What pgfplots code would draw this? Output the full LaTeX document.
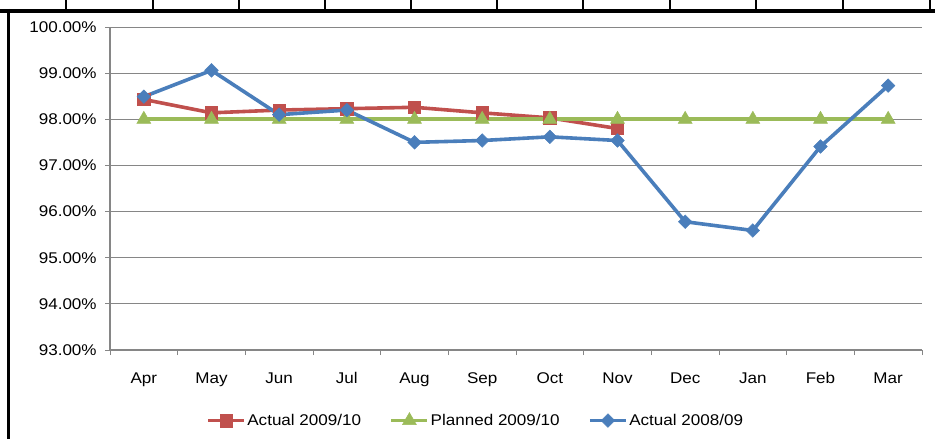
\documentclass[border=0pt]{standalone}
\usepackage{fontspec}
\setmainfont{Liberation Sans}[FakeStretch=1.1]
\usepackage{pgfplots}
\pgfplotsset{compat=1.18}
\definecolor{cred}{RGB}{192,80,77}
\definecolor{cgreen}{RGB}{155,187,89}
\definecolor{cblue}{RGB}{74,126,187}
\definecolor{cgrid}{RGB}{134,134,134}
\begin{document}
\fontsize{15.5bp}{18bp}\selectfont
\begin{tikzpicture}
\path[use as bounding box] (0,0) rectangle (935bp,439bp);
% spreadsheet frame
\draw[black, line width=4bp] (0,428bp) -- (935bp,428bp);
\draw[black, line width=3bp] (8.5bp,430bp) -- (8.5bp,0);
\foreach \xx in {66,153,239,325,411,497,583,670,756,843,930}{
  \draw[black, line width=1.5bp] (\xx bp,439bp) -- (\xx bp,428bp);
}
\begin{axis}[
  at={(110bp,89bp)}, anchor=south west,
  scale only axis, width=812bp, height=323bp,
  xmin=-0.5, xmax=11.5, ymin=93, ymax=100,
  axis x line*=bottom, axis y line*=left,
  axis line style={cgrid, line width=1.3bp},
  tick align=outside, major tick length=5bp,
  tick style={cgrid, line width=1bp},
  xtick={-0.5,0.5,...,11.5},
  xticklabels={Apr,May,Jun,Jul,Aug,Sep,Oct,Nov,Dec,Jan,Feb,Mar,{}},
  xticklabel style={xshift=33.83bp, yshift=-12bp},
  ytick={93,94,...,100},
  ymajorgrids, grid style={cgrid, line width=1bp},
  yticklabel={\pgfmathprintnumber[fixed,fixed zerofill,precision=2]{\tick}\%},
  /pgf/number format/assume math mode=true,
  yticklabel style={xshift=-3bp},
  every axis plot/.append style={line width=3.6bp},
  legend columns=3,
  legend style={draw=none, fill=none, at={(0.450,-0.2186)}, anchor=center,
    nodes={inner sep=1.5bp}, /tikz/every even column/.append style={column sep=27bp}},
  legend image code/.code={\draw[mark repeat=2,mark phase=2,#1] plot coordinates {(0bp,0bp) (18bp,0bp) (36bp,0bp)};},
]
\addplot[cred, mark=square*, mark size=6.2bp, mark options={solid, fill=cred, line width=0.5bp}]
  coordinates {(0,98.43) (1,98.14) (2,98.20) (3,98.23) (4,98.26) (5,98.14) (6,98.03) (7,97.80)};
\addlegendentry{Actual 2009/10}
\addplot[cgreen, mark=triangle*, mark size=8bp, mark options={solid, fill=cgreen, line width=0.5bp}]
  coordinates {(0,98) (1,98) (2,98) (3,98) (4,98) (5,98) (6,98) (7,98) (8,98) (9,98) (10,98) (11,98)};
\addlegendentry{Planned 2009/10}
\addplot[cblue, mark=square*, mark size=4.8bp, mark options={solid, rotate=45, fill=cblue, line width=0.5bp}]
  coordinates {(0,98.49) (1,99.06) (2,98.10) (3,98.20) (4,97.50) (5,97.54) (6,97.62) (7,97.54) (8,95.78) (9,95.59) (10,97.41) (11,98.73)};
\addlegendentry{Actual 2008/09}
\end{axis}
\end{tikzpicture}
\end{document}
